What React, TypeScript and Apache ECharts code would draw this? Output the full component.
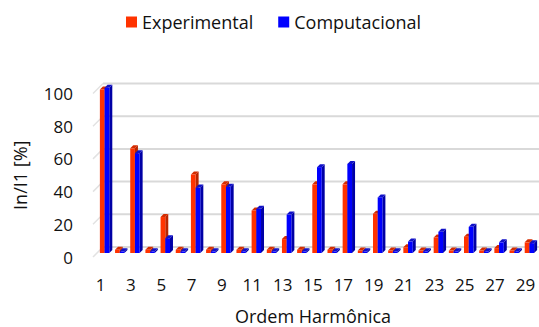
import React, { useEffect, useRef } from "react";
import * as echarts from "echarts";

// Harmonic orders 1..29
const harmonics: string[] = [
  "1", "2", "3", "4", "5", "6", "7", "8", "9", "10",
  "11", "12", "13", "14", "15", "16", "17", "18", "19", "20",
  "21", "22", "23", "24", "25", "26", "27", "28", "29",
];

// In/I1 [%] measured
const experimental: number[] = [
  100, 2, 64, 2, 22, 2, 48, 2, 42, 2,
  26, 2, 8.5, 2, 42, 2, 42, 1.5, 24, 1.5,
  3.5, 1.5, 9.5, 1.5, 10, 1.5, 3, 1.5, 6.5,
];

// In/I1 [%] simulated
const computacional: number[] = [
  101, 1, 61, 1, 9, 1, 40, 1, 40.5, 1,
  27, 1, 23.5, 1, 52.5, 1, 54.5, 1, 34, 1,
  7, 1, 13, 1, 16, 1, 6.5, 1, 6,
];

const yTicks: number[] = [0, 20, 40, 60, 80, 100];

const FONT = "'Open Sans', sans-serif";
const TEXT = "#111111";
const WALL = 10; // depth of the back wall, px
const INSET = 4; // bars sit part-way into the depth
const SIDE = 3; // bar thickness in depth

type Palette = { front: string; side: string; top: string };
const redPal: Palette = { front: "#FF3300", side: "#B82500", top: "#D42C00" };
const bluePal: Palette = { front: "#0000FF", side: "#0000A6", top: "#1010C8" };

function barRenderer(slot: number, pal: Palette) {
  return (params: any, api: any) => {
    const cat = api.value(0);
    const val = api.value(1);
    const base = api.coord([cat, 0]);
    const top = api.coord([cat, val]);
    const band = api.size([1, 0])[0];
    const bw = band * 0.31;
    const x0 = base[0] - bw + slot * bw + INSET;
    const x1 = x0 + bw;
    const yB = base[1] - INSET;
    const yT = top[1] - INSET;
    return {
      type: "group",
      children: [
        {
          type: "polygon",
          shape: { points: [[x1, yT], [x1 + SIDE, yT - SIDE], [x1 + SIDE, yB - SIDE], [x1, yB]] },
          style: { fill: pal.side },
        },
        {
          type: "polygon",
          shape: { points: [[x0, yT], [x0 + SIDE, yT - SIDE], [x1 + SIDE, yT - SIDE], [x1, yT]] },
          style: { fill: pal.top },
        },
        {
          type: "rect",
          shape: { x: x0, y: yT, width: bw, height: Math.max(yB - yT, 0) },
          style: { fill: pal.front },
        },
      ],
    };
  };
}

function wallRenderer(params: any, api: any) {
  const cs = params.coordSys;
  const y = api.coord([0, api.value(1)])[1];
  const left = cs.x;
  const right = cs.x + cs.width;
  return {
    type: "group",
    children: [
      {
        type: "line",
        shape: { x1: left, y1: y, x2: left + WALL, y2: y - WALL },
        style: { stroke: "#e2e2e2", lineWidth: 1.5 },
      },
      {
        type: "line",
        shape: { x1: left + WALL, y1: y - WALL, x2: right + WALL, y2: y - WALL },
        style: { stroke: "#d9d9d9", lineWidth: 2 },
      },
    ],
  };
}

export default function App() {
  const ref = useRef<HTMLDivElement>(null);

  useEffect(() => {
    if (!ref.current) return;
    const chart = echarts.init(ref.current, undefined, { renderer: "svg" });
    chart.setOption({
      animation: false,
      backgroundColor: "#ffffff",
      textStyle: { fontFamily: FONT },
      legend: {
        data: ["Experimental", "Computacional"],
        left: 126,
        top: 13,
        padding: 0,
        icon: "rect",
        itemWidth: 11,
        itemHeight: 11,
        itemGap: 25,
        textStyle: { fontFamily: FONT, fontSize: 18, color: TEXT },
      },
      grid: { left: 93, right: 6, top: 93.5, bottom: 70 },
      xAxis: {
        type: "category",
        data: harmonics,
        name: "Ordem Harmônica",
        nameLocation: "middle",
        nameGap: 50,
        nameTextStyle: { fontFamily: FONT, fontSize: 18, color: TEXT },
        axisLine: { show: false },
        axisTick: { show: false },
        axisLabel: { interval: 1, margin: 19, fontFamily: FONT, fontSize: 17, color: TEXT },
        splitLine: { show: false },
      },
      yAxis: {
        type: "value",
        min: 0,
        max: 100,
        interval: 20,
        name: "In/I1 [%]",
        nameLocation: "middle",
        nameGap: 64,
        nameRotate: 90,
        nameTextStyle: { fontFamily: FONT, fontSize: 18, color: TEXT },
        axisLine: { show: false },
        axisTick: { show: false },
        axisLabel: { margin: 20, fontFamily: FONT, fontSize: 17, color: TEXT },
        splitLine: { show: false },
      },
      series: [
        {
          name: "wall",
          type: "custom",
          silent: true,
          z: 1,
          clip: false,
          renderItem: wallRenderer,
          encode: { x: 0, y: 1 },
          data: yTicks.map((v) => [0, v]),
        },
        {
          name: "Experimental",
          type: "custom",
          z: 2,
          clip: false,
          itemStyle: { color: redPal.front },
          renderItem: barRenderer(0, redPal),
          encode: { x: 0, y: 1 },
          data: experimental.map((v, i) => [i, v]),
        },
        {
          name: "Computacional",
          type: "custom",
          z: 3,
          clip: false,
          itemStyle: { color: bluePal.front },
          renderItem: barRenderer(1, bluePal),
          encode: { x: 0, y: 1 },
          data: computacional.map((v, i) => [i, v]),
        },
      ],
    });
    return () => chart.dispose();
  }, []);

  return (
    <div
      ref={ref}
      style={{ position: "fixed", left: 0, top: 0, width: 539, height: 327 }}
    />
  );
}
